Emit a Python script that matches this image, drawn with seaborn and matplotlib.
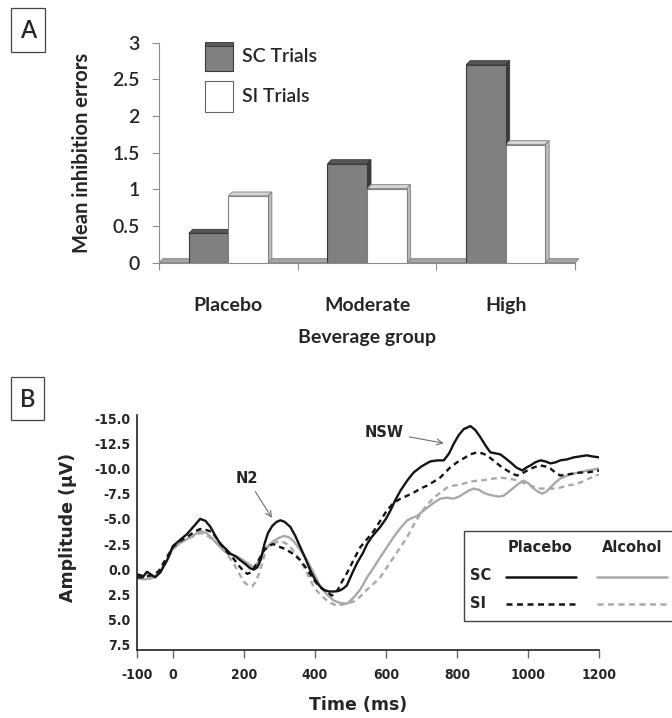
import matplotlib
matplotlib.use('Agg')
import matplotlib.pyplot as plt
import numpy as np
import pandas as pd
import seaborn as sns
from matplotlib.patches import Rectangle, Polygon
from matplotlib.lines import Line2D

# ---------------- Panel A data ----------------
groups = ['Placebo', 'Moderate', 'High']
trial_types = ['SC Trials', 'SI Trials']
sc_errors = [0.40, 1.35, 2.70]
si_errors = [0.91, 1.01, 1.61]
a_yticks = [0, 0.5, 1, 1.5, 2, 2.5, 3]
a_yticklabels = ['0', '0.5', '1', '1.5', '2', '2.5', '3']

# ---------------- Panel B data ----------------
b_xticks = [-100, 0, 200, 400, 600, 800, 1000, 1200]
b_yticks = [-15, -12.5, -10, -7.5, -5, -2.5, 0, 2.5, 5, 7.5]
b_yticklabels = ['-15.0', '-12.5', '-10.0', '-7.5', '-5.0', '-2.5', '0.0', '2.5', '5.0', '7.5']

placebo_sc_t = [-100, -85, -73, -62, -50, -35, -15, 0, 20, 40, 60, 77, 92, 106, 120, 134, 150, 162, 176, 190,
                205, 218, 228, 238, 248, 258, 268, 280, 292, 303, 315, 331, 345, 359, 373, 387, 400, 412, 425, 440,
                455, 470, 480, 490, 500, 509, 520, 535, 547, 560, 572, 584, 600, 613, 627, 641, 660, 678, 700, 725,
                745, 763, 778, 791, 805, 819, 838, 852, 866, 880, 894, 908, 922, 937, 951, 967, 984, 996, 1007, 1020,
                1035, 1049, 1063, 1077, 1091, 1110, 1129, 1147, 1166, 1180, 1200]
placebo_sc_v = [0.8, 0.8, 0.25, 0.5, 0.8, 0.3, -1.0, -2.3, -2.9, -3.5, -4.3, -5.0, -4.8, -4.2, -3.3, -2.5, -2.0, -1.55, -1.3, -0.9,
                -0.5, -0.1, 0.03, -0.2, -1.0, -2.5, -3.6, -4.3, -4.7, -4.86, -4.7, -4.2, -3.3, -2.2, -1.1, 0.1, 1.0, 1.6, 2.05, 2.2,
                2.2, 2.1, 1.9, 1.6, 0.8, 0.1, -0.7, -1.6, -2.5, -3.2, -3.7, -4.2, -5.0, -5.85, -6.9, -7.8, -8.8, -9.6, -10.2, -10.7,
                -10.8, -10.8, -11.5, -12.45, -13.3, -13.9, -14.2, -13.8, -13.1, -12.3, -11.6, -11.5, -11.4, -11.0, -10.6, -10.1, -9.8, -10.1, -10.3, -10.6,
                -10.8, -10.7, -10.5, -10.6, -10.8, -10.9, -11.1, -11.2, -11.3, -11.2, -11.1]

placebo_si_t = [-100, -80, -60, -40, -20, 0, 20, 40, 60, 77, 95, 110, 125, 140, 155, 170, 185, 200, 210, 220,
                230, 240, 255, 268, 282, 295, 310, 322, 340, 359, 378, 397, 415, 434, 447, 455, 465, 475, 490, 510,
                528, 547, 566, 584, 603, 622, 641, 660, 678, 697, 716, 735, 753, 767, 781, 800, 819, 838, 857, 871,
                885, 899, 913, 927, 941, 955, 969, 983, 998, 1016, 1035, 1049, 1063, 1077, 1091, 1110, 1129, 1147, 1166, 1185,
                1200]
placebo_si_v = [0.5, 0.7, 0.6, 0.2, -1.0, -2.2, -2.8, -3.2, -3.7, -4.0, -3.9, -3.7, -3.0, -2.3, -1.6, -1.1, -0.4, 0.2, 0.45, 0.3,
                -0.2, -0.8, -1.8, -2.3, -2.5, -2.3, -2.1, -1.9, -1.5, -0.9, 0.0, 1.05, 1.8, 2.2, 2.6, 2.5, 2.0, 1.3, 0.4, -1.0,
                -2.2, -3.0, -3.8, -4.8, -5.85, -6.6, -7.0, -7.3, -7.6, -8.0, -8.3, -8.7, -9.1, -9.6, -10.1, -10.6, -11.0, -11.4, -11.6, -11.5,
                -11.3, -10.9, -10.5, -10.1, -9.8, -9.5, -9.3, -9.5, -9.8, -10.1, -10.3, -10.2, -10.0, -9.6, -9.3, -9.4, -9.5, -9.6, -9.6, -9.7,
                -9.8]

alcohol_sc_t = [-100, -80, -60, -40, -20, 0, 20, 40, 60, 77, 95, 110, 125, 140, 155, 171, 185, 199, 214, 228,
                242, 256, 270, 284, 298, 312, 326, 340, 359, 378, 397, 416, 434, 453, 472, 491, 509, 528, 547, 566,
                584, 603, 622, 641, 660, 674, 688, 702, 716, 735, 753, 772, 791, 805, 819, 833, 847, 861, 875, 890,
                904, 918, 932, 946, 960, 974, 988, 1002, 1016, 1028, 1040, 1052, 1063, 1077, 1091, 1110, 1129, 1147, 1166, 1185,
                1200]
alcohol_sc_v = [0.9, 1.0, 0.9, 0.4, -0.6, -2.0, -2.6, -3.0, -3.4, -3.8, -3.6, -3.1, -2.5, -2.0, -1.6, -1.4, -1.2, -0.9, -0.5, -0.2,
                -0.8, -1.8, -2.4, -2.8, -3.1, -3.3, -3.2, -2.8, -1.9, -0.9, 0.4, 1.75, 2.5, 3.1, 3.35, 3.4, 2.8, 2.0, 0.8, -0.2,
                -1.2, -2.2, -3.2, -4.1, -4.85, -5.1, -5.3, -5.7, -6.1, -6.6, -7.0, -7.1, -7.0, -7.2, -7.5, -7.8, -8.0, -7.9, -7.6, -7.4,
                -7.3, -7.2, -7.3, -7.7, -8.1, -8.5, -8.8, -8.5, -8.0, -7.7, -7.5, -7.7, -8.1, -8.6, -9.0, -9.3, -9.5, -9.6, -9.8, -9.9,
                -10.0]

alcohol_si_t = [-100, -80, -60, -40, -20, 0, 20, 40, 60, 77, 95, 110, 125, 140, 155, 171, 185, 199, 212, 223,
                232, 242, 253, 265, 284, 303, 317, 331, 345, 359, 378, 397, 415, 434, 448, 462, 476, 491, 509, 528,
                547, 566, 584, 603, 622, 641, 660, 678, 697, 716, 735, 753, 772, 791, 810, 828, 847, 866, 885, 904,
                922, 941, 960, 979, 998, 1016, 1035, 1054, 1072, 1091, 1110, 1129, 1147, 1166, 1185, 1200]
alcohol_si_v = [0.6, 0.8, 0.7, 0.3, -0.8, -2.0, -2.6, -3.0, -3.3, -3.6, -3.4, -3.0, -2.6, -2.0, -1.4, -0.6, 0.3, 1.2, 1.6, 1.7,
                1.3, 0.5, -0.8, -2.2, -2.6, -2.8, -2.6, -2.2, -1.6, -0.9, 0.4, 1.75, 2.5, 3.1, 3.4, 3.6, 3.5, 3.4, 3.2, 2.7,
                2.0, 1.4, 0.8, -0.2, -1.2, -2.2, -3.2, -4.4, -5.5, -6.4, -7.1, -7.6, -8.1, -8.3, -8.4, -8.6, -8.75, -8.8, -8.9, -9.0,
                -9.1, -9.0, -8.9, -8.7, -8.4, -8.2, -8.0, -8.0, -8.0, -8.1, -8.3, -8.4, -8.6, -8.9, -9.2, -9.4]

# ---------------- figure ----------------
sns.set_theme(style='white')
plt.rcParams['font.family'] = ['Lato', 'DejaVu Sans']

W, H = 672, 718
fig = plt.figure(figsize=(W / 100, H / 100), dpi=100)
fig.patch.set_facecolor('white')


def fx(px):
    return px / W


def fy(py):
    return 1 - py / H


AW = 'semibold'

# ================= Panel A =================
axA = fig.add_axes([fx(159), fy(262.7), (575 - 159) / W, (262.7 - 42.7) / H])
axA.set_facecolor('none')
dfA = pd.DataFrame({'group': groups * 2,
                    'trial': [trial_types[0]] * 3 + [trial_types[1]] * 3,
                    'errors': sc_errors + si_errors})
sc_col, si_col = '#808080', '#ffffff'
sns.barplot(data=dfA, x='group', y='errors', hue='trial', order=groups, hue_order=trial_types,
            palette={trial_types[0]: sc_col, trial_types[1]: si_col}, width=0.57,
            linewidth=0.8, edgecolor='#404040', ax=axA, legend=False, zorder=3, errorbar=None)
axA.set_xlim(-0.5, 2.5)
axA.set_ylim(0, 3)

dx = 4.0 / 138.7
dy = 4.0 / 73.3
# floor
axA.add_patch(Polygon([(-0.5, 0), (2.5, 0), (2.5 + dx, dy), (-0.5 + dx, dy)], closed=True,
                      facecolor='#a6a6a6', edgecolor='#7a7a7a', lw=0.6, zorder=1, clip_on=False))
for p in list(axA.patches):
    if not isinstance(p, Rectangle):
        continue
    x0, w, h = p.get_x(), p.get_width(), p.get_height()
    fc = p.get_facecolor()
    is_sc = fc[0] < 0.9
    if is_sc:
        p.set_edgecolor('#3a3a3a')
        top_c, side_c, ec = '#575757', '#3c3c3c', '#333333'
    else:
        p.set_edgecolor('#808080')
        top_c, side_c, ec = '#d4d4d4', '#bcbcbc', '#808080'
    axA.add_patch(Polygon([(x0, h), (x0 + w, h), (x0 + w + dx, h + dy), (x0 + dx, h + dy)], closed=True,
                          facecolor=top_c, edgecolor=ec, lw=0.6, zorder=2, clip_on=False))
    axA.add_patch(Polygon([(x0 + w, 0), (x0 + w + dx, dy), (x0 + w + dx, h + dy), (x0 + w, h)], closed=True,
                          facecolor=side_c, edgecolor=ec, lw=0.6, zorder=2, clip_on=False))

for s in ['top', 'right']:
    axA.spines[s].set_visible(False)
for s in ['left', 'bottom']:
    axA.spines[s].set_color('#8c8c8c')
    axA.spines[s].set_linewidth(0.8)
axA.set_yticks(a_yticks)
axA.set_yticklabels(a_yticklabels, fontsize=14, fontweight=AW)
axA.tick_params(axis='y', which='major', direction='out', length=5, width=0.8, color='#8c8c8c', pad=9, left=True)
axA.set_xticks([-0.5, 0.5, 1.5, 2.5])
axA.set_xticklabels([])
axA.tick_params(axis='x', which='major', direction='out', length=5, width=0.8, color='#8c8c8c', bottom=True)
axA.set_xticks([0, 1, 2], minor=True)
axA.set_xticklabels(groups, minor=True, fontsize=14, fontweight='bold')
axA.tick_params(axis='x', which='minor', length=0, pad=25)
axA.set_xlabel('Beverage group', fontsize=14, fontweight='bold')
axA.xaxis.set_label_coords(0.5, -0.34)
axA.xaxis.label.set_va('center')
axA.set_ylabel('Mean inhibition errors', fontsize=14.5, fontweight='bold')
axA.yaxis.set_label_coords(-0.186, 0.5)
axA.yaxis.label.set_va('center')
axA.grid(False)

# legend A
fig.patches.append(Rectangle((fx(205), fy(70.7)), 28 / W, 28 / H, transform=fig.transFigure,
                             facecolor=sc_col, edgecolor='#3a3a3a', lw=0.8))
fig.patches.append(Rectangle((fx(205), fy(45.5)), 28 / W, 3 / H, transform=fig.transFigure,
                             facecolor='#575757', edgecolor='#333333', lw=0.6))
fig.patches.append(Rectangle((fx(205), fy(111.7)), 28 / W, 31 / H, transform=fig.transFigure,
                             facecolor=si_col, edgecolor='#666666', lw=0.8))
fig.text(fx(241.7), fy(57), trial_types[0], fontsize=14, fontweight=AW, ha='left', va='center')
fig.text(fx(241.7), fy(97), trial_types[1], fontsize=14, fontweight=AW, ha='left', va='center')

# box A
fig.patches.append(Rectangle((fx(11), fy(51.7)), 34 / W, 43.4 / H, transform=fig.transFigure,
                             fill=False, edgecolor='#444444', lw=0.9))
fig.text(fx(28), fy(31), 'A', fontsize=17, fontweight=AW, ha='center', va='center')

# ================= Panel B =================
bfont = ['DejaVu Sans']
axB = fig.add_axes([fx(137.3), fy(650), (599 - 137.3) / W, (650 - 415) / H])
series = [('Placebo', 'SC', placebo_sc_t, placebo_sc_v),
          ('Placebo', 'SI', placebo_si_t, placebo_si_v),
          ('Alcohol', 'SC', alcohol_sc_t, alcohol_sc_v),
          ('Alcohol', 'SI', alcohol_si_t, alcohol_si_v)]
rows = []
for bev, tr, ts, vs in series:
    for t, v in zip(ts, vs):
        rows.append({'time': t, 'amp': v, 'beverage': bev, 'trial': tr})
dfB = pd.DataFrame(rows)
black, gray = '#141414', '#a9a9a9'
sns.lineplot(data=dfB, x='time', y='amp', hue='beverage', style='trial',
             hue_order=['Alcohol', 'Placebo'], style_order=['SC', 'SI'],
             palette={'Placebo': black, 'Alcohol': gray},
             dashes={'SC': '', 'SI': (2.4, 1.8)}, estimator=None, errorbar=None,
             linewidth=1.7, legend=False, ax=axB)
axB.set_xlim(-100, 1200)
axB.set_ylim(8.0, -15.3)
for s in ['top', 'right']:
    axB.spines[s].set_visible(False)
for s in ['left', 'bottom']:
    axB.spines[s].set_color('#222222')
    axB.spines[s].set_linewidth(1.2)
axB.set_xticks(b_xticks)
axB.set_xticklabels([str(v) for v in b_xticks], fontsize=10, fontweight='bold', family=bfont,
                    fontstretch='condensed')
axB.set_yticks(b_yticks)
axB.set_yticklabels(b_yticklabels, fontsize=10, fontweight='bold', family=bfont, fontstretch='condensed')
axB.tick_params(axis='x', direction='out', length=6, width=1.0, color='#666666', pad=7, bottom=True)
axB.tick_params(axis='y', length=0, pad=5)
axB.set_xlabel('Time (ms)', fontsize=12.5, fontweight='bold', family=bfont)
axB.xaxis.set_label_coords((358 - 137.3) / (599 - 137.3), (650 - 705) / 235)
axB.xaxis.label.set_va('center')
axB.set_ylabel('Amplitude (\u00b5V)', fontsize=12.5, fontweight='bold', family=bfont)
axB.yaxis.set_label_coords((68 - 137.3) / (599 - 137.3), (650 - 527) / 235)
axB.yaxis.label.set_va('center')
axB.grid(False)

axB.annotate('N2', xy=(279, -5.1), xytext=(209, -9.0), fontsize=10.5, fontweight='bold', family=bfont,
             ha='center', va='center',
             arrowprops=dict(arrowstyle='->', color='#6e6e6e', lw=0.8, shrinkA=2, shrinkB=0))
axB.annotate('NSW', xy=(763, -12.5), xytext=(594, -13.6), fontsize=10.5, fontweight='bold', family=bfont,
             ha='center', va='center',
             arrowprops=dict(arrowstyle='->', color='#6e6e6e', lw=0.8, shrinkA=2, shrinkB=0))

# legend B (box runs past right edge as in reference)
fig.patches.append(Rectangle((fx(464), fy(621)), 260 / W, 90 / H, transform=fig.transFigure,
                             fill=False, edgecolor='#444444', lw=1.0, clip_on=False))
fig.text(fx(540), fy(547), 'Placebo', fontsize=10.5, fontweight='bold', family=bfont, ha='center', va='center')
fig.text(fx(632), fy(547), 'Alcohol', fontsize=10.5, fontweight='bold', family=bfont, ha='center', va='center')
fig.text(fx(470), fy(576), 'SC', fontsize=10.5, fontweight='bold', family=bfont, ha='left', va='center')
fig.text(fx(470), fy(603), 'SI', fontsize=10.5, fontweight='bold', family=bfont, ha='left', va='center')
fig.lines.append(Line2D([fx(505.7), fx(575.7)], [fy(577), fy(577)], transform=fig.transFigure, color=black, lw=1.8))
fig.lines.append(Line2D([fx(597), fx(667)], [fy(577), fy(577)], transform=fig.transFigure, color=gray, lw=1.8))
fig.lines.append(Line2D([fx(505.7), fx(575.7)], [fy(603.5), fy(603.5)], transform=fig.transFigure, color=black,
                        lw=1.8, dashes=(2.4, 1.8)))
fig.lines.append(Line2D([fx(597), fx(667)], [fy(603.5), fy(603.5)], transform=fig.transFigure, color=gray,
                        lw=1.8, dashes=(2.4, 1.8)))

# box B
fig.patches.append(Rectangle((fx(11), fy(420)), 33 / W, 43.3 / H, transform=fig.transFigure,
                             fill=False, edgecolor='#444444', lw=0.9))
fig.text(fx(27.5), fy(399), 'B', fontsize=17, fontweight=AW, ha='center', va='center')

fig.savefig('out.png', dpi=100, facecolor='white')
